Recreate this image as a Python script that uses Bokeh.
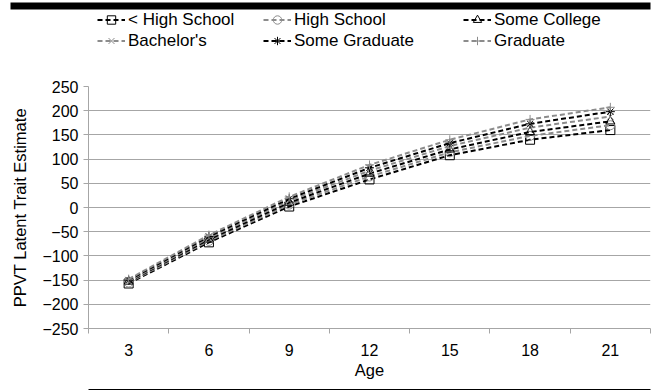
from bokeh.plotting import figure
from bokeh.models import (FixedTicker, Legend, LegendItem, Range1d, BoxAnnotation,
                          LinearAxis)
from bokeh.layouts import column
from bokeh.embed import file_html
from bokeh.resources import INLINE

# ---- data ----
ages = [3, 6, 9, 12, 15, 18, 21]
less_high_school = [-157, -72, 2, 58, 108, 140, 160]
high_school = [-155, -69, 6, 64, 114, 148, 170]
some_college = [-153, -66, 10, 70, 120, 156, 178]
bachelors = [-152, -63, 14, 76, 127, 165, 188]
some_graduate = [-150, -60, 18, 82, 133, 173, 198]
graduate = [-148, -57, 22, 88, 140, 182, 207]
series_names = ["< High School", "High School", "Some College",
                "Bachelor's", "Some Graduate", "Graduate"]
y_ticks = [-250, -200, -150, -100, -50, 0, 50, 100, 150, 200, 250]

BLACK = "#000000"
GRAY = "#8c8c8c"
FONT = "Liberation Sans"
W = 660

series = [
    (series_names[0], less_high_school, BLACK, "square"),
    (series_names[1], high_school, GRAY, "circle"),
    (series_names[2], some_college, BLACK, "triangle"),
    (series_names[3], bachelors, GRAY, "x"),
    (series_names[4], some_graduate, BLACK, "asterisk"),
    (series_names[5], graduate, GRAY, "cross"),
]

LINE_KW = dict(line_width=2, line_dash="5 3")
MARK_KW = dict(size=9, fill_color=None, line_width=1)

# ---- main plot ----
p = figure(width=W, height=333, output_backend="svg", toolbar_location=None,
           x_range=Range1d(ages[0] - 1.5, ages[-1] + 1.5),
           y_range=Range1d(y_ticks[0], y_ticks[-1]),
           min_border_left=88, min_border_right=10,
           min_border_top=27, min_border_bottom=64)
p.outline_line_color = None
p.xgrid.visible = False
p.ygrid.ticker = FixedTicker(ticks=y_ticks)
p.ygrid.grid_line_color = "#a6a6a6"
p.ygrid.grid_line_width = 1

boundaries = [a - 1.5 for a in ages] + [ages[-1] + 1.5]
p.xaxis.ticker = FixedTicker(ticks=ages, minor_ticks=boundaries)
p.xaxis.major_tick_out = 0
p.xaxis.major_tick_in = 0
p.xaxis.minor_tick_out = 5
p.xaxis.minor_tick_in = 0
p.xaxis.minor_tick_line_color = "#a6a6a6"
p.xaxis.axis_label = "Age"
p.xaxis.major_label_standoff = 10
p.xaxis.axis_label_standoff = 2

p.yaxis.ticker = FixedTicker(ticks=y_ticks)
p.yaxis.major_tick_out = 5
p.yaxis.major_tick_in = 0
p.yaxis.minor_tick_line_color = None
p.yaxis.major_tick_line_color = "#a6a6a6"
p.yaxis.major_label_overrides = {t: str(t).replace("-", "\u2212") for t in y_ticks}
p.yaxis.axis_label = "PPVT Latent Trait Estimate"
p.yaxis.major_label_standoff = 5
p.yaxis.axis_label_standoff = 10

for ax in (p.xaxis[0], p.yaxis[0]):
    ax.axis_line_color = "#a6a6a6"
    ax.major_label_text_font = FONT
    ax.major_label_text_font_size = "16px"
    ax.major_label_text_color = "#000000"
    ax.axis_label_text_font = FONT
    ax.axis_label_text_font_size = "16.5px"
    ax.axis_label_text_font_style = "normal"
    ax.axis_label_text_color = "#000000"

# thin gap + black rule under the "Age" label (axes in the below panel)
gap_axis = LinearAxis(ticker=FixedTicker(ticks=[]), axis_line_color=None,
                      major_tick_line_color=None, minor_tick_line_color=None,
                      axis_label="\u00a0", axis_label_text_font_size="4px",
                      axis_label_standoff=0)
rule_axis = LinearAxis(ticker=FixedTicker(ticks=[]), axis_line_color="#000000",
                       axis_line_width=1, major_tick_line_color=None,
                       minor_tick_line_color=None)
p.add_layout(gap_axis, "below")
p.add_layout(rule_axis, "below")

for name, vals, color, marker in series:
    p.line(ages, vals, line_color=color, **LINE_KW)
    p.scatter(ages, vals, marker=marker, line_color=color, **MARK_KW)


# ---- header strip: black rule + legend (frame = whole canvas, y in px downward) ----
LF_H = 59
lf = figure(width=W, height=LF_H, output_backend="svg", toolbar_location=None,
            x_axis_location=None, y_axis_location=None,
            x_range=Range1d(0, W), y_range=Range1d(LF_H, 0),
            min_border_left=0, min_border_right=0,
            min_border_top=0, min_border_bottom=0)
if "frame_align" in lf.properties():
    lf.frame_align = False
lf.outline_line_color = None
lf.xgrid.visible = False
lf.ygrid.visible = False
lf.add_layout(BoxAnnotation(left=10, right=650, top=2, bottom=9,
                            fill_color="#000000", fill_alpha=1, line_color=None))

items = []
for name, vals, color, marker in series:
    # legend proxies placed outside this strip's visible range
    lr = lf.line(ages, [v * 0 - 1000 for v in vals], line_color=color, **LINE_KW)
    sr = lf.scatter(ages, [v * 0 - 1000 for v in vals], marker=marker,
                    line_color=color, **MARK_KW)
    items.append(LegendItem(label=name, renderers=[lr, sr]))

col_x = [97, 263, 463]
for c in range(3):
    leg = Legend(items=[items[c], items[c + 3]], location=(col_x[c], LF_H - 9 - 42),
                 orientation="vertical", padding=0, spacing=0, margin=0,
                 glyph_width=28, glyph_height=21, label_height=21,
                 label_standoff=3, border_line_color=None,
                 background_fill_alpha=0, label_text_font=FONT,
                 label_text_font_size="17px", label_text_color="#000000")
    lf.add_layout(leg, "center")

layout = column(lf, p, spacing=0)

open("out.html", "w").write(file_html(layout, INLINE))
